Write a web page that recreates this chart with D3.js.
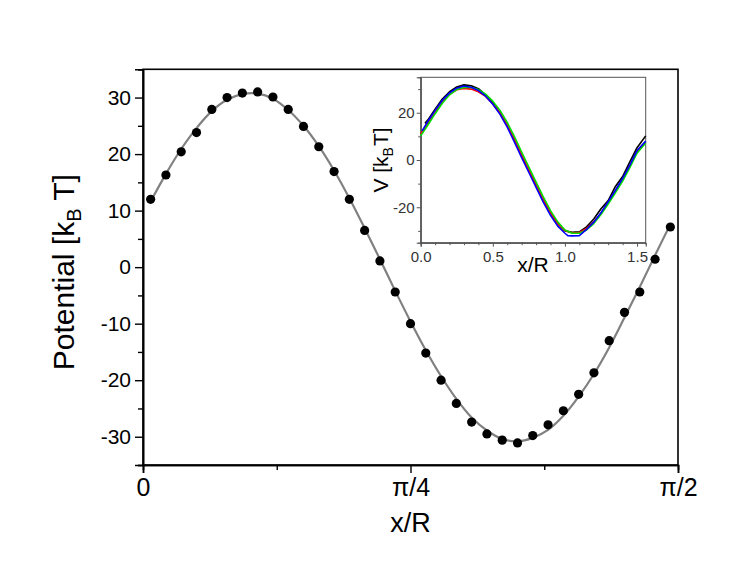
<!DOCTYPE html>
<html><head><meta charset="utf-8">
<script src="https://cdn.jsdelivr.net/npm/d3@7/dist/d3.min.js"></script>
<style>
body{margin:0;background:#fff}
text{font-family:"Liberation Sans",Arial,Helvetica,sans-serif}
</style>
</head><body>
<svg id="chart" width="747" height="584"></svg>
<script>
// ---------- main plot data ----------
const dotX = [0.0224,0.0673,0.1122,0.1571,0.2020,0.2468,0.2917,0.3366,0.3815,0.4264,0.4712,0.5161,0.5610,0.6059,0.6508,0.6956,0.7405,0.7854,0.8303,0.8752,0.9200,0.9649,1.0098,1.0547,1.0996,1.1444,1.1893,1.2342,1.2791,1.3240,1.3688,1.4137,1.4586,1.5035,1.5484];
const dotY = [12.0,16.3,20.4,23.8,27.9,30.0,30.8,31.0,30.1,27.9,24.9,21.3,16.9,12.0,6.5,1.1,-4.4,-10.0,-15.2,-20.0,-24.1,-27.4,-29.5,-30.6,-31.1,-29.8,-27.9,-25.4,-22.5,-18.7,-13.0,-8.0,-4.4,1.4,7.1];
const fitY = [11.6,16.5,20.9,24.6,27.6,29.6,30.6,30.7,29.8,27.8,25.0,21.4,17.1,12.2,6.9,1.4,-4.2,-9.6,-14.7,-19.3,-23.3,-26.6,-28.9,-30.4,-30.8,-30.2,-28.8,-26.3,-22.9,-18.9,-14.2,-8.9,-3.5,2.1,7.6];
const xMajorTicks = [0, Math.PI/4, Math.PI/2];
const xMajorLabels = ["0","π/4","π/2"];
const xMinorTicks = [Math.PI/8, 3*Math.PI/8];
const yMajorTicks = [-30,-20,-10,0,10,20,30];
const yMinorTicks = [-35,-25,-15,-5,5,15,25,35];

// ---------- inset data ----------
const blackX = [0.03,0.05,0.10,0.15,0.20,0.25,0.30,0.35,0.40,0.45,0.50,0.55,0.60,0.65,0.70,0.75,0.80,0.85,0.90,0.95,1.00,1.05,1.10,1.15,1.20,1.25,1.30,1.35,1.40,1.45,1.50,1.56];
const blackY = [15.5,17.0,21.5,25.8,28.9,30.9,31.8,31.4,30.2,27.6,24.1,19.9,14.6,8.4,1.9,-4.3,-10.6,-16.8,-22.5,-27.0,-30.0,-30.6,-30.4,-28.3,-25.0,-20.6,-17.2,-11.2,-7.0,-0.8,5.2,10.2];
const redX = [0.00,0.05,0.10,0.15,0.20,0.25,0.30,0.35,0.40,0.45,0.50,0.55,0.60,0.65,0.70,0.75,0.80,0.85,0.90,0.95,1.00,1.05,1.10,1.15,1.20,1.25,1.30,1.35,1.40,1.45,1.50,1.56];
const redY = [11.0,15.6,20.2,24.6,27.8,29.7,30.3,30.0,28.9,26.9,23.7,19.8,14.6,8.5,2.0,-4.2,-10.5,-16.8,-22.3,-26.9,-29.8,-30.9,-30.7,-29.0,-26.2,-22.5,-17.9,-13.2,-8.2,-2.5,3.6,7.5];
const greenX = [0.00,0.05,0.10,0.15,0.20,0.25,0.30,0.35,0.40,0.45,0.50,0.55,0.60,0.65,0.70,0.75,0.80,0.85,0.90,0.95,1.00,1.05,1.10,1.15,1.20,1.25,1.30,1.35,1.40,1.45,1.50,1.56];
const greenY = [10.2,14.8,19.6,24.0,27.6,29.8,30.7,30.7,29.8,27.9,24.9,21.0,15.9,9.9,3.4,-3.0,-9.4,-15.6,-21.4,-26.2,-29.6,-31.0,-31.0,-29.6,-26.9,-23.1,-18.6,-13.9,-8.9,-3.2,2.9,7.2];
const blueX = [0.01,0.05,0.10,0.15,0.20,0.25,0.30,0.35,0.40,0.45,0.50,0.55,0.60,0.65,0.70,0.75,0.80,0.85,0.90,0.95,1.00,1.02,1.05,1.10,1.15,1.20,1.25,1.30,1.35,1.40,1.45,1.50,1.56];
const blueY = [12.3,16.4,21.0,25.3,28.4,30.4,31.3,30.8,29.4,27.0,23.6,19.3,13.9,7.6,1.0,-5.3,-11.6,-17.8,-23.4,-28.0,-31.0,-32.0,-32.1,-32.0,-29.4,-26.3,-22.3,-17.6,-12.8,-7.8,-2.2,4.0,8.0];
const insetXTicks = [0, 0.5, 1.0, 1.5];
const insetXMinor = [0.1,0.2,0.3,0.4,0.6,0.7,0.8,0.9,1.1,1.2,1.3,1.4];
const insetYTicks = [-20, 0, 20];
const insetYMinor = [-30,-10,10,30];
const insetSeries = [
  {name:"black", color:"#000000", x:blackX, y:blackY},
  {name:"red", color:"#ff0000", x:redX, y:redY},
  {name:"green", color:"#00e000", x:greenX, y:greenY},
  {name:"blue", color:"#0000ff", x:blueX, y:blueY}
];

const svg = d3.select("#chart");
const hyph = d => String(d);

// ---------- main plot ----------
const L = 143, R = 678, T = 69.3, B = 465;
const x = d3.scaleLinear().domain([0, Math.PI/2]).range([L, R]);
const y = d3.scaleLinear().domain([-35, 35]).range([B, T]);

svg.append("rect").attr("x", L).attr("y", T).attr("width", R-L).attr("height", B-T)
  .attr("fill","none").attr("stroke","#000").attr("stroke-width",1.6);

const yAx = svg.append("g").attr("transform",`translate(${L},0)`)
  .call(d3.axisLeft(y).tickValues(yMajorTicks).tickSize(8).tickPadding(4).tickFormat(hyph));
svg.append("g").attr("transform",`translate(${L},0)`)
  .call(d3.axisLeft(y).tickValues(yMinorTicks).tickSize(5).tickFormat(""));
const xAx = svg.append("g").attr("transform",`translate(0,${B})`)
  .call(d3.axisBottom(x).tickValues(xMajorTicks).tickSize(8).tickPadding(5).tickFormat((d,i)=>xMajorLabels[i]));
svg.append("g").attr("transform",`translate(0,${B})`)
  .call(d3.axisBottom(x).tickValues(xMinorTicks).tickSize(5).tickFormat(""));
svg.selectAll(".domain").attr("stroke","#000").attr("stroke-width",1.6);
svg.selectAll(".tick line").attr("stroke","#000").attr("stroke-width",1.4);
yAx.selectAll("text").attr("font-size",21).attr("fill","#000").attr("font-family",'"Liberation Sans",Arial,sans-serif');
xAx.selectAll("text").attr("font-size",25).attr("fill","#000").attr("font-family",'"Liberation Sans",Arial,sans-serif');

const fitLine = d3.line().x((d,i)=>x(dotX[i])).y(d=>y(d)).curve(d3.curveCatmullRom.alpha(0.5));
svg.append("path").datum(fitY).attr("d", fitLine).attr("fill","none")
  .attr("stroke","#808080").attr("stroke-width",2.2);

svg.append("g").selectAll("circle").data(dotY).join("circle")
  .attr("cx",(d,i)=>x(dotX[i])).attr("cy",d=>y(d)).attr("r",4.6).attr("fill","#000");

const yt = svg.append("text").attr("transform",`translate(74,${(T+B)/2 + 5}) rotate(-90)`)
  .attr("text-anchor","middle").attr("font-size",30).attr("fill","#000");
yt.append("tspan").text("Potential [k");
yt.append("tspan").text("B").attr("font-size",20).attr("dy",7);
yt.append("tspan").text(" T]").attr("dy",-7);
svg.append("text").attr("x",(L+R)/2).attr("y",532).attr("text-anchor","middle")
  .attr("font-size",27).attr("fill","#000").text("x/R");

// ---------- inset ----------
const iL = 420.7, iR = 645.7, iT = 77.3, iB = 242.7;
const ix = d3.scaleLinear().domain([0, 1.56]).range([iL, iR]);
const iy = d3.scaleLinear().domain([-35, 35]).range([iB, iT]);
const inset = svg.append("g");
inset.append("rect").attr("x",iL).attr("y",iT).attr("width",iR-iL).attr("height",iB-iT)
  .attr("fill","#fff").attr("stroke","#555").attr("stroke-width",1);

const iyAx = inset.append("g").attr("transform",`translate(${iL},0)`)
  .call(d3.axisLeft(iy).tickValues(insetYTicks).tickSize(4).tickPadding(2).tickFormat(hyph));
inset.append("g").attr("transform",`translate(${iL},0)`)
  .call(d3.axisLeft(iy).tickValues(insetYMinor).tickSize(2.5).tickFormat(""));
const ixAx = inset.append("g").attr("transform",`translate(0,${iB})`)
  .call(d3.axisBottom(ix).tickValues(insetXTicks).tickSize(4).tickPadding(5).tickFormat(d3.format(".1f")));
inset.append("g").attr("transform",`translate(0,${iB})`)
  .call(d3.axisBottom(ix).tickValues(insetXMinor).tickSize(2.5).tickFormat(""));
inset.selectAll(".domain").attr("stroke","#555").attr("stroke-width",1);
inset.selectAll(".tick line").attr("stroke","#555").attr("stroke-width",1);
inset.selectAll(".tick text").attr("font-size",15).attr("fill","#333").attr("font-family",'"Liberation Sans",Arial,sans-serif');

const iline = d3.line().x(d=>ix(d[0])).y(d=>iy(d[1]));
insetSeries.forEach(s=>{
  const pts = s.x.map((xv,i)=>[xv, s.y[i]]);
  inset.append("path").datum(pts).attr("d", iline).attr("fill","none")
    .attr("stroke", s.color).attr("stroke-width",1.6).attr("stroke-linejoin","round");
});

const iyt = inset.append("text").attr("transform",`translate(388,${(iT+iB)/2}) rotate(-90)`)
  .attr("text-anchor","middle").attr("font-size",21).attr("fill","#000");
iyt.append("tspan").text("V [k");
iyt.append("tspan").text("B").attr("font-size",14).attr("dy",5);
iyt.append("tspan").text("T]").attr("dy",-5).attr("dx",1);
inset.append("text").attr("x",533).attr("y",272).attr("text-anchor","middle")
  .attr("font-size",21).attr("fill","#000").text("x/R");
</script>
</body></html>
